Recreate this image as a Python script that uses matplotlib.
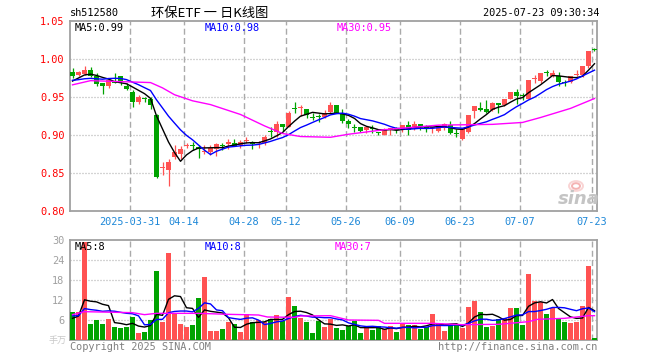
import numpy as np
import pandas as pd
import matplotlib
matplotlib.use('Agg')
import matplotlib.pyplot as plt
from matplotlib.patches import Ellipse

plt.rcParams['font.family'] = ['DejaVu Sans Mono', 'Noto Sans CJK SC']

# ---------------- data ----------------
holidays = ['2025-04-04', '2025-05-01', '2025-05-02', '2025-05-05', '2025-06-02']
dates = [d.strftime('%Y-%m-%d') for d in pd.bdate_range('2025-03-17', '2025-07-23')
         if d.strftime('%Y-%m-%d') not in holidays]

opens = [0.983, 0.979, 0.980, 0.986, 0.977, 0.968, 0.965, 0.970, 0.978, 0.965,
         0.957, 0.943, 0.948, 0.947, 0.926, 0.857, 0.854, 0.871, 0.875, 0.886,
         0.887, 0.884, 0.877, 0.878, 0.882, 0.887, 0.888, 0.889, 0.887, 0.892,
         0.889, 0.889, 0.889, 0.905, 0.904, 0.914, 0.911, 0.935, 0.936, 0.934,
         0.924, 0.925, 0.924, 0.930, 0.940, 0.929, 0.918, 0.910, 0.910, 0.906,
         0.909, 0.903, 0.900, 0.908, 0.908, 0.908, 0.913, 0.909, 0.915, 0.910,
         0.909, 0.905, 0.909, 0.913, 0.902, 0.895, 0.904, 0.931, 0.936, 0.934,
         0.933, 0.942, 0.939, 0.948, 0.956, 0.9515, 0.948, 0.9735, 0.971, 0.9815,
         0.978, 0.978, 0.9695, 0.970, 0.979, 0.979, 0.991, 1.012]
highs = [0.988, 0.984, 0.991, 0.989, 0.982, 0.969, 0.974, 0.982, 0.978, 0.968,
         0.959, 0.953, 0.950, 0.950, 0.927, 0.864, 0.869, 0.887, 0.885, 0.889,
         0.891, 0.887, 0.887, 0.887, 0.889, 0.890, 0.895, 0.895, 0.893, 0.897,
         0.892, 0.892, 0.900, 0.911, 0.918, 0.914, 0.931, 0.943, 0.939, 0.934,
         0.929, 0.927, 0.933, 0.943, 0.940, 0.934, 0.921, 0.914, 0.910, 0.911,
         0.913, 0.904, 0.909, 0.909, 0.910, 0.913, 0.918, 0.919, 0.915, 0.913,
         0.911, 0.911, 0.916, 0.918, 0.908, 0.908, 0.926, 0.938, 0.944, 0.946,
         0.944, 0.942, 0.948, 0.957, 0.960, 0.955, 0.973, 0.979, 0.982, 0.986,
         0.986, 0.983, 0.973, 0.977, 0.986, 0.991, 1.011, 1.014]
lows = [0.975, 0.978, 0.979, 0.976, 0.964, 0.954, 0.962, 0.968, 0.966, 0.959,
        0.937, 0.941, 0.943, 0.934, 0.844, 0.847, 0.833, 0.868, 0.868, 0.883,
        0.880, 0.870, 0.875, 0.874, 0.873, 0.880, 0.882, 0.885, 0.883, 0.889,
        0.882, 0.883, 0.887, 0.898, 0.898, 0.905, 0.910, 0.929, 0.925, 0.923,
        0.920, 0.917, 0.923, 0.929, 0.929, 0.916, 0.909, 0.904, 0.904, 0.903,
        0.902, 0.900, 0.900, 0.900, 0.902, 0.904, 0.900, 0.906, 0.907, 0.904,
        0.903, 0.904, 0.907, 0.901, 0.898, 0.893, 0.903, 0.923, 0.932, 0.929,
        0.931, 0.929, 0.938, 0.947, 0.941, 0.946, 0.947, 0.969, 0.969, 0.977,
        0.976, 0.965, 0.965, 0.969, 0.977, 0.976, 0.988, 1.010]
closes = [0.978, 0.983, 0.986, 0.978, 0.967, 0.965, 0.972, 0.969, 0.971, 0.960,
          0.944, 0.950, 0.947, 0.940, 0.845, 0.858, 0.864, 0.878, 0.882, 0.887,
          0.886, 0.881, 0.879, 0.883, 0.888, 0.886, 0.891, 0.886, 0.891, 0.894,
          0.888, 0.890, 0.898, 0.904, 0.914, 0.910, 0.929, 0.934, 0.937, 0.926,
          0.923, 0.924, 0.929, 0.939, 0.929, 0.918, 0.914, 0.909, 0.905, 0.911,
          0.908, 0.902, 0.906, 0.909, 0.906, 0.913, 0.907, 0.915, 0.911, 0.909,
          0.910, 0.911, 0.915, 0.902, 0.901, 0.908, 0.926, 0.938, 0.933, 0.930,
          0.942, 0.940, 0.948, 0.956, 0.951, 0.951, 0.972, 0.974, 0.982, 0.981,
          0.982, 0.970, 0.969, 0.977, 0.9795, 0.991, 1.010, 1.0115]
volumes = [8.5, 8.3, 29.5, 4.9, 6.0, 4.9, 6.3, 4.0, 3.7, 4.0,
           7.0, 2.2, 2.5, 6.0, 20.8, 5.5, 26.2, 7.8, 4.9, 4.0,
           4.5, 12.7, 19.0, 2.8, 2.8, 3.2, 5.5, 4.8, 2.5, 7.7,
           5.5, 6.0, 5.5, 6.2, 7.5, 5.8, 13.0, 10.2, 6.7, 5.5,
           2.2, 5.8, 4.0, 6.3, 3.6, 3.0, 4.1, 5.8, 2.1, 3.5,
           3.0, 4.2, 3.2, 4.2, 2.4, 5.0, 4.5, 4.5, 3.3, 4.0,
           7.8, 4.8, 2.8, 4.5, 4.5, 3.7, 10.0, 11.8, 8.5, 4.0,
           4.3, 6.2, 6.7, 9.7, 9.7, 4.5, 19.9, 11.8, 11.5, 7.8,
           9.7, 6.5, 5.5, 5.2, 5.5, 10.3, 22.3, 0.7]

# values before the visible window (estimated so that the MA lines start where they do)
prior_closes = [0.975, 0.974, 0.973, 0.972, 0.971, 0.963, 0.966, 0.973, 0.975]
prior_volumes = [8.0, 8.0, 8.0, 8.0, 8.0, 5.0, 5.0, 7.0, 7.0]

# MA30 lines (candle index, value)
ma30_idx = [0, 3, 7, 13, 15, 17, 20, 23, 28, 32, 35, 38, 43, 46, 52, 61, 70, 75, 78, 83, 87]
ma30_val = [0.966, 0.9715, 0.9705, 0.969, 0.962, 0.953, 0.945, 0.940, 0.927, 0.912, 0.902,
            0.898, 0.897, 0.901, 0.907, 0.913, 0.914, 0.9165, 0.923, 0.935, 0.948]
vma30_idx = [0, 2, 10, 12, 14, 21, 26, 31, 32.5, 37, 38, 43, 46, 51, 52, 60, 65, 71, 76, 77.5, 82, 86, 87]
vma30_val = [7.6, 8.5, 8.2, 7.6, 8.0, 8.0, 7.7, 7.5, 6.9, 6.8, 7.2, 7.3, 6.0, 5.9, 5.0, 5.0,
             4.6, 4.7, 5.5, 6.2, 6.5, 7.3, 7.3]

# legend texts as shown on the chart
price_ma_labels = ['MA5:0.99', 'MA10:0.98', 'MA30:0.95']
vol_ma_labels = ['MA5:8', 'MA10:8', 'MA30:7']

tick_dates = ['2025-03-31', '2025-04-14', '2025-04-28', '2025-05-12', '2025-05-26',
              '2025-06-09', '2025-06-23', '2025-07-07', '2025-07-23']
tick_labels = ['2025-03-31', '04-14', '04-28', '05-12', '05-26', '06-09', '06-23', '07-07', '07-23']
price_ticks = [0.80, 0.85, 0.90, 0.95, 1.00, 1.05]
vol_ticks = [6, 12, 18, 24, 30]

# ---------------- figure ----------------
W, H = 660, 360
fig = plt.figure(figsize=(W / 100, H / 100), dpi=100)
fig.patch.set_facecolor('white')


def px_axes(l, t, r, b):
    return fig.add_axes([l / W, 1 - b / H, (r - l) / W, (b - t) / H])


ax = px_axes(70, 21, 597, 211)
axv = px_axes(70, 240, 597, 340)

UP, DOWN = '#ff5252', '#00a300'
GRID = '#aaaaaa'
o, h, l, c = map(np.array, (opens, highs, lows, closes))
v = np.array(volumes)
n = len(o)
x = np.arange(n)
cols = [UP if c[i] >= o[i] else DOWN for i in range(n)]

step = 6.0  # pixels per candle
xlim = (-2.5 / step, (597 - 72.5) / step)
tick_x = np.array([dates.index(d) for d in tick_dates]) - 2.5 / step

# price panel
ax.vlines(x, l, h, color=cols, linewidth=0.9, zorder=3)
body_lo = np.minimum(o, c)
body_h = np.maximum(np.abs(c - o), 0.0013)
ax.bar(x, body_h, bottom=body_lo, width=5 / step, color=cols, linewidth=0, zorder=3)

c_all = pd.Series(prior_closes + closes)
k = len(prior_closes)
ma5 = c_all.rolling(5).mean().values[k:]
ma10 = c_all.rolling(10).mean().values[k:]
ax.plot(x, ma5, color='black', linewidth=1.0, zorder=4)
ax.plot(x, ma10, color='#0000ff', linewidth=1.0, zorder=4)
ax.plot(ma30_idx, ma30_val, color='#ff00ff', linewidth=1.0, zorder=4)

ax.set_xlim(*xlim)
ax.set_ylim(0.80, 1.05)
ax.set_yticks(price_ticks)
ax.set_yticklabels(['%.2f' % t for t in price_ticks], color='#ff0000', fontsize=7.4)
ax.set_xticks(tick_x)
ax.set_xticklabels(tick_labels, color='#1e88d8', fontsize=7.4)
ax.tick_params(length=0, pad=4)
for yv in price_ticks[1:-1]:
    ax.axhline(yv, color=GRID, linewidth=0.9, linestyle=(0, (0.8, 1.6)), zorder=1)

# volume panel
axv.bar(x, v, width=5 / step, color=cols, linewidth=0, zorder=3)
v_all = pd.Series(prior_volumes + volumes)
kv = len(prior_volumes)
vma5 = v_all.rolling(5).mean().values[kv:]
vma10 = v_all.rolling(10).mean().values[kv:]
axv.plot(x, vma5, color='black', linewidth=1.0, zorder=4)
axv.plot(x, vma10, color='#0000ff', linewidth=1.0, zorder=4)
axv.plot(vma30_idx, vma30_val, color='#ff00ff', linewidth=1.0, zorder=4)
axv.set_xlim(*xlim)
axv.set_ylim(0, 30)
axv.set_yticks(vol_ticks)
axv.set_yticklabels([str(t) for t in vol_ticks], color='#a0a0a0', fontsize=7.4)
axv.set_xticks([])
axv.tick_params(length=0, pad=4)
for yv in vol_ticks[:-1]:
    axv.axhline(yv, color=GRID, linewidth=0.9, linestyle=(0, (0.8, 1.6)), zorder=1)

for a in (ax, axv):
    for xv in tick_x:
        a.axvline(xv, color=GRID, linewidth=1.0, linestyle=(0, (4.3, 2.4)), zorder=1)
    for s in a.spines.values():
        s.set_color('#a0a0a0')
        s.set_linewidth(1.3)
    a.set_facecolor('white')


def ftext(px, py, s, **kw):
    fig.text(px / W, 1 - py / H, s, **kw)


ftext(70, 13, 'sh512580', fontsize=7.4, va='center', ha='left', color='black')
ftext(151, 13, '环保ETF 一 日K线图', fontsize=9.5, va='center', ha='left', color='black',
      family=['Noto Sans CJK SC', 'DejaVu Sans'])
ftext(599, 13, '2025-07-23 09:30:34', fontsize=7.4, va='center', ha='right', color='black')

ma_cols = ['black', '#0000ff', '#ff00ff']
for xp, txt, col in zip([75, 205, 337], price_ma_labels, ma_cols):
    ftext(xp, 28, txt, fontsize=7.4, va='center', color=col)
for xp, txt, col in zip([75, 205, 335], vol_ma_labels, ma_cols):
    ftext(xp, 247, txt, fontsize=7.4, va='center', color=col)

ftext(49, 340, '手万', fontsize=6.5, va='center', ha='left', color='#c8c8c8',
      family=['Noto Sans CJK SC', 'DejaVu Sans'])
ftext(70, 347, 'Copyright 2025 SINA.COM', fontsize=7.4, va='center', ha='left', color='#808080')
ftext(597, 347, 'http://finance.sina.com.cn', fontsize=7.4, va='center', ha='right', color='#808080')

# sina watermark: light red eye logo + grey text
for r, alpha in ((7, 0.45), (4, 0.8)):
    fig.add_artist(Ellipse((576 / W, 1 - 186 / H), 2 * r / W, 1.4 * r / H,
                           transform=fig.transFigure, facecolor='none',
                           edgecolor='#f2a0a0', linewidth=1.4, alpha=alpha))
ftext(579, 199, 'sina', fontsize=13, va='center', ha='center', color='#c4c4c4',
      style='italic', weight='bold', family='DejaVu Sans')

fig.savefig('out.png', dpi=100, facecolor='white')
